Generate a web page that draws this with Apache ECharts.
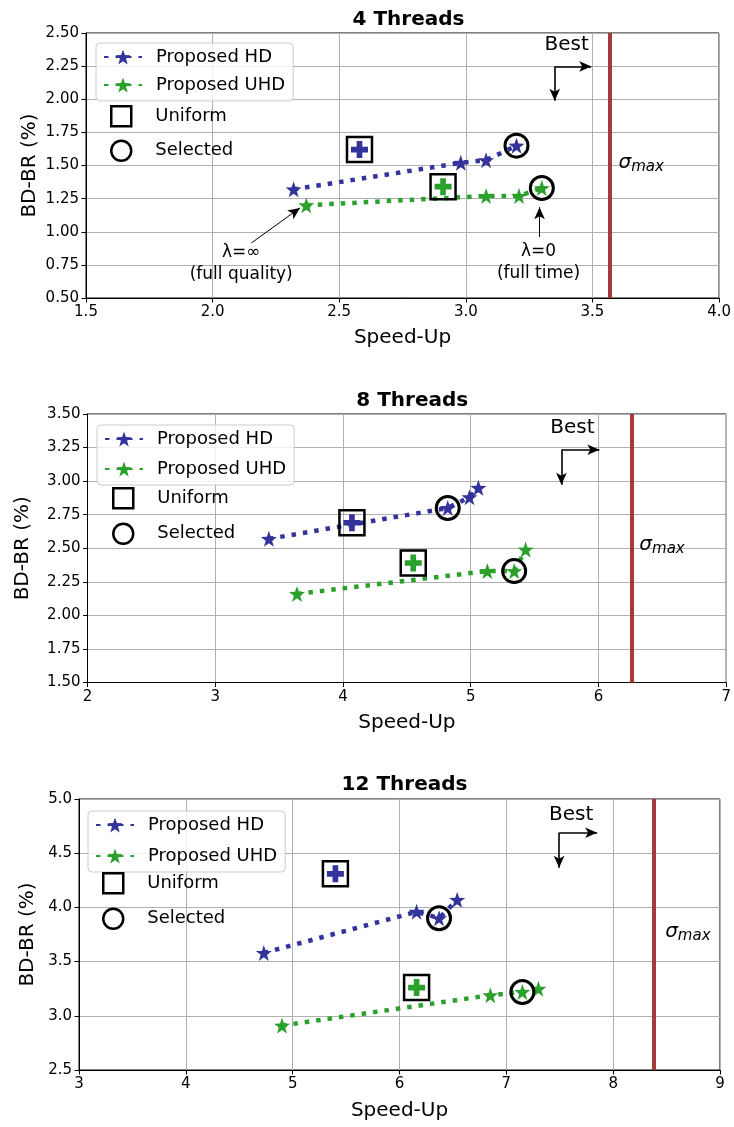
<!DOCTYPE html>
<html><head><meta charset="utf-8">
<script src="https://cdn.jsdelivr.net/npm/echarts@6/dist/echarts.min.js"></script>
<style>html,body{margin:0;padding:0;background:#fff}#c{width:734px;height:1127px}</style>
</head><body><div id="c"></div>
<script>
// ---------------- DATA ----------------
const panelTitles = ['4 Threads', '8 Threads', '12 Threads'];
const legendNames = ['Proposed HD', 'Proposed UHD', 'Uniform', 'Selected'];

// 4 threads
const hd4 = [[2.32, 1.32], [2.98, 1.52], [3.08, 1.54], [3.20, 1.65]];
const uhd4 = [[2.37, 1.20], [3.08, 1.27], [3.21, 1.27], [3.30, 1.33]];
const uniform4 = [[2.58, 1.62], [2.91, 1.34]];      // [HD, UHD]
const selected4 = [[3.20, 1.65], [3.30, 1.33]];
const sigma4 = 3.57;
const xTicks4 = ['1.5', '2.0', '2.5', '3.0', '3.5', '4.0'];
const yTicks4 = ['0.50', '0.75', '1.00', '1.25', '1.50', '1.75', '2.00', '2.25', '2.50'];

// 8 threads
const hd8 = [[3.42, 2.57], [4.82, 2.80], [4.99, 2.88], [5.06, 2.95]];
const uhd8 = [[3.64, 2.16], [5.13, 2.33], [5.34, 2.33], [5.43, 2.49]];
const uniform8 = [[4.07, 2.69], [4.55, 2.39]];
const selected8 = [[4.82, 2.80], [5.34, 2.33]];
const sigma8 = 6.26;
const xTicks8 = ['2', '3', '4', '5', '6', '7'];
const yTicks8 = ['1.50', '1.75', '2.00', '2.25', '2.50', '2.75', '3.00', '3.25', '3.50'];

// 12 threads
const hd12 = [[4.73, 3.58], [6.16, 3.96], [6.37, 3.90], [6.54, 4.07]];
const uhd12 = [[4.90, 2.91], [6.85, 3.19], [7.15, 3.22], [7.30, 3.25]];
const uniform12 = [[5.40, 4.31], [6.16, 3.26]];
const selected12 = [[6.37, 3.90], [7.15, 3.22]];
const sigma12 = 8.38;
const xTicks12 = ['3', '4', '5', '6', '7', '8', '9'];
const yTicks12 = ['2.5', '3.0', '3.5', '4.0', '4.5', '5.0'];

// annotation anchor points (data coords)
const bestText = [[3.398, 2.412], [5.796, 3.397], [7.607, 4.855]];
const bestCorner = [[3.351, 2.248], [5.71, 3.234], [7.494, 4.689]];
const bestRightEnd = [3.495, 6.007, 7.85];
const bestDownEnd = [1.989, 2.973, 4.366];
const sigmaText = [[3.603, 1.521], [6.32, 2.526], [8.487, 3.775]];
const lambdaInfText = [2.113, 0.759];
const lambdaInfArrow = [[2.153, 0.915], [2.345, 1.18]];
const lambdaZeroText = [3.287, 0.764];
const lambdaZeroArrow = [[3.291, 0.96], [3.291, 1.185]];

// ---------------- STYLE / LAYOUT ----------------
const FONT = 'DejaVu Sans';
const BLUE = '#33339b';
const GREEN = '#2ca02c';
const RED = '#a33b3b';
const STAR = 'path://M0,-10L2.35,-3.24L9.51,-3.09L3.8,1.24L5.88,8.09L0,4L-5.88,8.09L-3.8,1.24L-9.51,-3.09L-2.35,-3.24Z';
const PLUS = 'path://M-1,-3H1V-1H3V1H1V3H-1V1H-3V-1H-1Z';

const layout = [
  {left: 86, top: 33, width: 635, height: 265, titleTop: 5, xGap: 30, yGap: 46,
   legA: {left: 96, top: 43, gap: 8}, legB: {left: 110, top: 105, gap: 12}},
  {left: 87.5, top: 414, width: 639.5, height: 268.5, titleTop: 386, xGap: 30, yGap: 55,
   legA: {left: 97, top: 425, gap: 10}, legB: {left: 112, top: 487, gap: 13}},
  {left: 79, top: 799, width: 641, height: 271, titleTop: 770, xGap: 31, yGap: 41,
   legA: {left: 88, top: 811, gap: 11}, legB: {left: 102, top: 872, gap: 13}}
];

const panels = [
  {title: panelTitles[0], hd: hd4, uhd: uhd4, uni: uniform4, sel: selected4, sigma: sigma4,
   xT: xTicks4, yT: yTicks4},
  {title: panelTitles[1], hd: hd8, uhd: uhd8, uni: uniform8, sel: selected8, sigma: sigma8,
   xT: xTicks8, yT: yTicks8},
  {title: panelTitles[2], hd: hd12, uhd: uhd12, uni: uniform12, sel: selected12, sigma: sigma12,
   xT: xTicks12, yT: yTicks12}
];

const option = {
  animation: false, backgroundColor: '#fff',
  title: [], grid: [], xAxis: [], yAxis: [], legend: [], series: []
};

function axisCommon(ticks) {
  const min = parseFloat(ticks[0]);
  const max = parseFloat(ticks[ticks.length - 1]);
  const step = (max - min) / (ticks.length - 1);
  return {
    type: 'value', min: min, max: max, interval: step,
    axisLine: {show: true, onZero: false, lineStyle: {color: '#000', width: 1}},
    axisTick: {show: true, length: 4.5, lineStyle: {color: '#000', width: 1}},
    axisLabel: {margin: 7, fontSize: 15, color: '#000', fontFamily: FONT,
      formatter: v => ticks[Math.round((v - min) / step)]},
    splitLine: {show: true, lineStyle: {color: '#b0b0b0', width: 1}},
    nameLocation: 'middle', nameMoveOverlap: false,
    nameTextStyle: {fontFamily: FONT, fontSize: 20, color: '#000'}
  };
}

const textBase = {fontFamily: FONT, color: '#000'};

panels.forEach((p, i) => {
  const g = layout[i];
  option.grid.push({left: g.left, top: g.top, width: g.width, height: g.height,
    show: true, borderColor: '#000', borderWidth: 1, backgroundColor: 'transparent'});
  option.title.push({text: p.title, left: g.left + g.width / 2, top: g.titleTop, textAlign: 'center',
    textStyle: {fontFamily: FONT, fontSize: 20, fontWeight: 'bold', color: '#000'}});
  option.xAxis.push(Object.assign(axisCommon(p.xT), {gridIndex: i, name: 'Speed-Up', nameGap: g.xGap}));
  option.yAxis.push(Object.assign(axisCommon(p.yT), {gridIndex: i, name: 'BD-BR (%)', nameGap: g.yGap}));

  option.legend.push({
    orient: 'vertical', left: g.legA.left, top: g.legA.top, selectedMode: false,
    data: [legendNames[0], legendNames[1]],
    itemWidth: 38, itemHeight: 19, itemGap: g.legA.gap, padding: [4, 8, 6, 7],
    backgroundColor: 'rgba(255,255,255,0.8)', borderColor: '#cccccc', borderWidth: 1, borderRadius: 4,
    textStyle: Object.assign({fontSize: 18, lineHeight: 20, padding: [0, 0, 0, 9]}, textBase)
  });
  option.legend.push({
    orient: 'vertical', left: g.legB.left, top: g.legB.top, selectedMode: false,
    data: [legendNames[2], legendNames[3]],
    itemWidth: 20, itemHeight: 20, itemGap: g.legB.gap, padding: 0,
    itemStyle: {color: 'rgba(0,0,0,0)', borderColor: '#000', borderWidth: 2.5, opacity: 1},
    textStyle: Object.assign({fontSize: 18, lineHeight: 20, padding: [0, 0, 0, 19]}, textBase)
  });

  const ax = {xAxisIndex: i, yAxisIndex: i};
  [[legendNames[0], p.hd, BLUE], [legendNames[1], p.uhd, GREEN]].forEach(([name, d, c]) => {
    option.series.push(Object.assign({
      type: 'line', name: name, data: d, symbol: STAR, symbolSize: 16, showSymbol: true,
      lineStyle: {color: c, width: 4.5, type: [4.5, 7]}, itemStyle: {color: c, opacity: 1}, z: 3, silent: true
    }, ax));
  });
  option.series.push(Object.assign({
    type: 'scatter', name: '_plus', symbol: PLUS, symbolSize: 17, z: 4, silent: true,
    data: p.uni.map((v, k) => ({value: v, itemStyle: {color: k === 0 ? BLUE : GREEN, opacity: 1}}))
  }, ax));
  option.series.push(Object.assign({
    type: 'scatter', name: legendNames[2], symbol: 'rect', symbolSize: 25, z: 5, silent: true,
    itemStyle: {color: 'rgba(0,0,0,0)', borderColor: '#000', borderWidth: 2.5, opacity: 1}, data: p.uni
  }, ax));
  option.series.push(Object.assign({
    type: 'scatter', name: legendNames[3], symbol: 'circle', symbolSize: 23, z: 6, silent: true,
    itemStyle: {color: 'rgba(0,0,0,0)', borderColor: '#000', borderWidth: 3, opacity: 1}, data: p.sel
  }, ax));
  option.series.push(Object.assign({
    type: 'line', name: '_sigma', data: [], silent: true,
    markLine: {silent: true, symbol: ['none', 'none'], label: {show: false}, animation: false,
      lineStyle: {color: RED, width: 4, type: 'solid', opacity: 1}, data: [{xAxis: p.sigma}]}
  }, ax));

  // annotations
  const annData = [
    {value: bestText[i], label: {show: true, position: 'inside', formatter: 'Best', fontSize: 20, ...textBase}},
    {value: sigmaText[i], label: {show: true, position: 'right', distance: 0, formatter: '{s|σ}{m|max}',
      rich: {s: {fontSize: 20, fontStyle: 'italic', fontFamily: FONT, color: '#000'},
             m: {fontSize: 15, fontStyle: 'italic', fontFamily: FONT, color: '#000', padding: [9, 0, 0, 0]}}}}
  ];
  const arrows = [
    [{coord: bestCorner[i]}, {coord: [bestRightEnd[i], bestCorner[i][1]]}],
    [{coord: bestCorner[i]}, {coord: [bestCorner[i][0], bestDownEnd[i]]}]
  ];
  if (i === 0) {
    annData.push({value: lambdaInfText, label: {show: true, position: 'inside', align: 'center',
      formatter: 'λ=∞\n(full quality)', fontSize: 17, lineHeight: 22, ...textBase}});
    annData.push({value: lambdaZeroText, label: {show: true, position: 'inside', align: 'center',
      formatter: 'λ=0\n(full time)', fontSize: 17, lineHeight: 22, ...textBase}});
    arrows.push([{coord: lambdaInfArrow[0], lineStyle: {width: 1}}, {coord: lambdaInfArrow[1]}]);
    arrows.push([{coord: lambdaZeroArrow[0], lineStyle: {width: 1}}, {coord: lambdaZeroArrow[1]}]);
  }
  option.series.push(Object.assign({
    type: 'scatter', name: '_ann', symbolSize: 0, z: 7, silent: true, data: annData,
    itemStyle: {opacity: 1},
    markLine: {silent: true, symbol: ['none', 'arrow'], symbolSize: [8, 12], label: {show: false}, animation: false,
      lineStyle: {color: '#000', width: 1.6, type: 'solid', opacity: 1}, data: arrows}
  }, ax));
});

const chart = echarts.init(document.getElementById('c'), null, {renderer: 'canvas'});
chart.setOption(option);
</script>
</body></html>
